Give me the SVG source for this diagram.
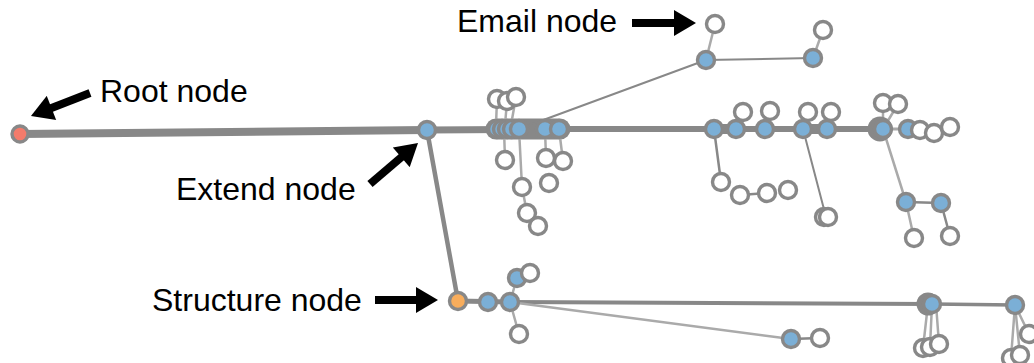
<svg xmlns="http://www.w3.org/2000/svg" width="1034" height="363" viewBox="0 0 1034 363">
  <style>
    .lbl { font-family: "Liberation Sans", Arial, sans-serif; font-size: 32px; fill: #000; }
    .ptr { stroke: #000; stroke-width: 8; fill: none; marker-end: url(#head); }
    .e { stroke: #888; fill: none; stroke-linecap: round; }
    .lt { stroke: #aaa; }
    .n circle { stroke: #888; stroke-width: 3.4; }
    .blue { fill: #7bafd6; }
    .white { fill: #fff; }
    .root { fill: #f47b6b; }
    .struct { fill: #f8ad5c; }
    .blob { fill: #888; }
  </style>
  <defs>
    <marker id="head" markerUnits="userSpaceOnUse" markerWidth="24" markerHeight="26" viewBox="0 0 22 26" refX="2" refY="13" orient="auto">
      <path d="M0,0 L22,13 L0,26 Z" fill="#000"/>
    </marker>
  </defs>

  <!-- connectors -->
  <g id="connectors">
    <!-- trunk -->
    <line class="e" x1="20" y1="134" x2="427" y2="130" stroke-width="8"/>
    <line class="e" x1="427" y1="130" x2="566" y2="129" stroke-width="7"/>
    <line class="e" x1="566" y1="129" x2="883" y2="129" stroke-width="6"/>
    <line class="e lt" x1="883" y1="129" x2="908" y2="129" stroke-width="3"/>
    <line class="e" x1="427" y1="130" x2="458" y2="301" stroke-width="4.5"/>
    <!-- cluster band -->
    <line class="e" x1="496" y1="129" x2="560" y2="129" stroke-width="21"/>
    <line class="e" x1="714" y1="129" x2="736" y2="129" stroke-width="10"/>
    <line class="e" x1="803" y1="129" x2="827" y2="129" stroke-width="10"/>
    <!-- cluster A children -->
    <line class="e lt" x1="497" y1="99" x2="496" y2="125" stroke-width="2.5"/>
    <line class="e lt" x1="507" y1="101" x2="505" y2="125" stroke-width="2.5"/>
    <line class="e lt" x1="516" y1="97" x2="511" y2="125" stroke-width="2.5"/>
    <line class="e lt" x1="504" y1="129" x2="505" y2="160" stroke-width="2.5"/>
    <line class="e lt" x1="519" y1="129" x2="522" y2="187" stroke-width="2.5"/>
    <line class="e lt" x1="522" y1="187" x2="527" y2="213" stroke-width="2.5"/>
    <line class="e lt" x1="527" y1="213" x2="538" y2="226" stroke-width="2.5"/>
    <line class="e lt" x1="545" y1="129" x2="546" y2="158" stroke-width="2.5"/>
    <line class="e lt" x1="559" y1="129" x2="563" y2="161" stroke-width="2.5"/>
    <!-- email branch -->
    <line class="e" x1="527" y1="126" x2="706" y2="60" stroke-width="2"/>
    <line class="e" x1="706" y1="60" x2="813" y2="58" stroke-width="2"/>
    <line class="e lt" x1="706" y1="60" x2="715" y2="24" stroke-width="2.5"/>
    <line class="e lt" x1="813" y1="58" x2="823" y2="30" stroke-width="2.5"/>
    <!-- cluster B children -->
    <line class="e" x1="714" y1="129" x2="721" y2="182" stroke-width="2.5"/>
    <line class="e" x1="740" y1="195" x2="767" y2="193" stroke-width="2.5"/>
    <line class="e" x1="803" y1="129" x2="826" y2="217" stroke-width="2"/>
    <line class="e lt" x1="736" y1="129" x2="743" y2="112" stroke-width="2.5"/>
    <line class="e lt" x1="765" y1="129" x2="770" y2="111" stroke-width="2.5"/>
    <line class="e lt" x1="803" y1="129" x2="808" y2="112" stroke-width="2.5"/>
    <line class="e lt" x1="827" y1="129" x2="831" y2="112" stroke-width="2.5"/>
    <!-- cluster C children -->
    <line class="e lt" x1="883" y1="129" x2="883" y2="103" stroke-width="2.5"/>
    <line class="e lt" x1="883" y1="129" x2="898" y2="104" stroke-width="2.5"/>
    <line class="e lt" x1="883" y1="129" x2="906" y2="202" stroke-width="2.5"/>
    <line class="e" x1="906" y1="202" x2="941" y2="203" stroke-width="2.5"/>
    <line class="e lt" x1="906" y1="202" x2="914" y2="238" stroke-width="2.5"/>
    <line class="e" x1="941" y1="203" x2="950" y2="236" stroke-width="2.5"/>
    <!-- structure branch -->
    <line class="e" x1="458" y1="301" x2="510" y2="302" stroke-width="5"/>
    <line class="e" x1="510" y1="302" x2="932" y2="304" stroke-width="4"/>
    <line class="e" x1="932" y1="304" x2="1015" y2="305" stroke-width="3.5"/>
    <line class="e lt" x1="510" y1="302" x2="791" y2="339" stroke-width="2.5"/>
    <line class="e" x1="791" y1="339" x2="820" y2="338" stroke-width="2.5"/>
    <line class="e lt" x1="510" y1="302" x2="517" y2="278" stroke-width="2.5"/>
    <line class="e lt" x1="510" y1="302" x2="519" y2="334" stroke-width="2.5"/>
    <line class="e lt" x1="928" y1="304" x2="923" y2="348" stroke-width="2.5"/>
    <line class="e lt" x1="932" y1="304" x2="930" y2="347" stroke-width="2.5"/>
    <line class="e lt" x1="936" y1="304" x2="939" y2="344" stroke-width="2.5"/>
    <line class="e lt" x1="1015" y1="305" x2="1011" y2="358" stroke-width="2.5"/>
    <line class="e lt" x1="1015" y1="305" x2="1020" y2="355" stroke-width="2.5"/>
    <line class="e lt" x1="1015" y1="305" x2="1029" y2="334" stroke-width="2.5"/>
    <!-- hub blobs -->
    <circle class="blob" cx="880" cy="129" r="12.5"/>
    <circle class="blob" cx="928" cy="304" r="11.5"/>
  </g>

  <!-- root and extend -->
  <g id="root" class="n"><circle class="root" cx="20" cy="134" r="8"/></g>
  <g id="extend" class="n"><circle class="blue" cx="427" cy="130" r="8.5"/></g>

  <!-- cluster A -->
  <g id="a1" class="n"><circle class="blue" cx="497" cy="129" r="8.5"/></g>
  <g id="a2" class="n"><circle class="blue" cx="502" cy="129" r="8.5"/></g>
  <g id="a3" class="n"><circle class="blue" cx="507" cy="129" r="8.5"/></g>
  <g id="a4" class="n"><circle class="blue" cx="512" cy="129" r="8.5"/></g>
  <g id="a5" class="n"><circle class="blue" cx="519" cy="129" r="8.5"/></g>
  <g id="a6" class="n"><circle class="blue" cx="545" cy="129" r="8.5"/></g>
  <g id="a7" class="n"><circle class="blue" cx="559" cy="129" r="8.5"/></g>
  <g id="a8" class="n"><circle class="white" cx="497" cy="99" r="8.5"/></g>
  <g id="a9" class="n"><circle class="white" cx="507" cy="101" r="8.5"/></g>
  <g id="a10" class="n"><circle class="white" cx="516" cy="97" r="8.5"/></g>
  <g id="a11" class="n"><circle class="white" cx="505" cy="160" r="8.5"/></g>
  <g id="a12" class="n"><circle class="white" cx="522" cy="187" r="8.5"/></g>
  <g id="a13" class="n"><circle class="white" cx="527" cy="213" r="8.5"/></g>
  <g id="a14" class="n"><circle class="white" cx="538" cy="226" r="8.5"/></g>
  <g id="a15" class="n"><circle class="white" cx="546" cy="158" r="8.5"/></g>
  <g id="a16" class="n"><circle class="white" cx="563" cy="161" r="8.5"/></g>
  <g id="a17" class="n"><circle class="white" cx="549" cy="183" r="8.5"/></g>

  <!-- email branch -->
  <g id="email" class="n"><circle class="white" cx="715" cy="24" r="8.5"/></g>
  <g id="e1" class="n"><circle class="blue" cx="706" cy="60" r="8.5"/></g>
  <g id="e2" class="n"><circle class="blue" cx="813" cy="58" r="8.5"/></g>
  <g id="e3" class="n"><circle class="white" cx="823" cy="30" r="8.5"/></g>

  <!-- cluster B -->
  <g id="b1" class="n"><circle class="white" cx="743" cy="112" r="8.5"/></g>
  <g id="b2" class="n"><circle class="white" cx="770" cy="111" r="8.5"/></g>
  <g id="b3" class="n"><circle class="white" cx="808" cy="112" r="8.5"/></g>
  <g id="b4" class="n"><circle class="white" cx="831" cy="112" r="8.5"/></g>
  <g id="b5" class="n"><circle class="blue" cx="714" cy="129" r="8.5"/></g>
  <g id="b6" class="n"><circle class="blue" cx="736" cy="129" r="8.5"/></g>
  <g id="b7" class="n"><circle class="blue" cx="765" cy="129" r="8.5"/></g>
  <g id="b8" class="n"><circle class="blue" cx="803" cy="129" r="8.5"/></g>
  <g id="b9" class="n"><circle class="blue" cx="827" cy="129" r="8.5"/></g>
  <g id="b10" class="n"><circle class="white" cx="721" cy="182" r="8.5"/></g>
  <g id="b11" class="n"><circle class="white" cx="740" cy="195" r="8.5"/></g>
  <g id="b12" class="n"><circle class="white" cx="767" cy="193" r="8.5"/></g>
  <g id="b13" class="n"><circle class="white" cx="788" cy="190" r="8.5"/></g>
  <g id="b14" class="n"><circle class="white" cx="824" cy="217" r="8.5"/></g>
  <g id="b15" class="n"><circle class="white" cx="828" cy="217" r="8.5"/></g>

  <!-- cluster C -->
  <g id="c1" class="n"><circle class="white" cx="883" cy="103" r="8.5"/></g>
  <g id="c2" class="n"><circle class="white" cx="898" cy="104" r="8.5"/></g>
  <g id="c3" class="n"><circle class="blue" cx="883" cy="129" r="8.5"/></g>
  <g id="c4" class="n"><circle class="blue" cx="908" cy="129" r="8.5"/></g>
  <g id="c5" class="n"><circle class="white" cx="920" cy="130" r="8.5"/></g>
  <g id="c6" class="n"><circle class="white" cx="934" cy="133" r="8.5"/></g>
  <g id="c7" class="n"><circle class="white" cx="950" cy="127" r="8.5"/></g>
  <g id="c8" class="n"><circle class="blue" cx="906" cy="202" r="8.5"/></g>
  <g id="c9" class="n"><circle class="blue" cx="941" cy="203" r="8.5"/></g>
  <g id="c10" class="n"><circle class="white" cx="914" cy="238" r="8.5"/></g>
  <g id="c11" class="n"><circle class="white" cx="950" cy="236" r="8.5"/></g>

  <!-- structure branch -->
  <g id="structure" class="n"><circle class="struct" cx="458" cy="301" r="8.5"/></g>
  <g id="s1" class="n"><circle class="blue" cx="488" cy="302" r="8.5"/></g>
  <g id="s2" class="n"><circle class="blue" cx="510" cy="302" r="8.5"/></g>
  <g id="s3" class="n"><circle class="blue" cx="517" cy="278" r="8.5"/></g>
  <g id="s4" class="n"><circle class="white" cx="530" cy="273" r="8.5"/></g>
  <g id="s5" class="n"><circle class="white" cx="519" cy="334" r="8.5"/></g>
  <g id="s6" class="n"><circle class="blue" cx="791" cy="339" r="8.5"/></g>
  <g id="s7" class="n"><circle class="white" cx="820" cy="338" r="8.5"/></g>
  <g id="s8" class="n"><circle class="blue" cx="932" cy="304" r="8.5"/></g>
  <g id="s9" class="n"><circle class="blue" cx="1015" cy="305" r="8.5"/></g>
  <g id="s10" class="n"><circle class="white" cx="923" cy="348" r="8.5"/></g>
  <g id="s11" class="n"><circle class="white" cx="930" cy="347" r="8.5"/></g>
  <g id="s12" class="n"><circle class="white" cx="939" cy="344" r="8.5"/></g>
  <g id="s13" class="n"><circle class="white" cx="1029" cy="334" r="8.5"/></g>
  <g id="s14" class="n"><circle class="white" cx="1011" cy="358" r="8.5"/></g>
  <g id="s15" class="n"><circle class="white" cx="1020" cy="355" r="8.5"/></g>

  <!-- labels with pointers -->
  <g id="labels">
    <text class="lbl" x="100" y="102">Root node</text>
    <line class="ptr" x1="90" y1="93" x2="49.6" y2="108.7"/>
    <text class="lbl" x="176" y="200">Extend node</text>
    <line class="ptr" x1="370" y1="184" x2="402.8" y2="156"/>
    <text class="lbl" x="457" y="32">Email node</text>
    <line class="ptr" x1="632" y1="23" x2="676" y2="23"/>
    <text class="lbl" x="152" y="311">Structure node</text>
    <line class="ptr" x1="375" y1="300" x2="418" y2="300"/>
  </g>
</svg>
